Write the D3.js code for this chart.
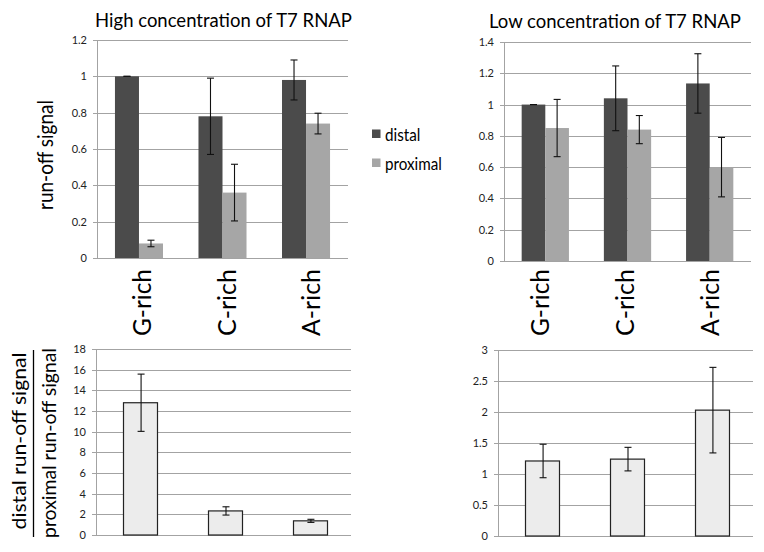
<!DOCTYPE html>
<html><head><meta charset="utf-8">
<script src="https://cdn.jsdelivr.net/npm/d3@7"></script>
<style>
body{margin:0;background:#fff}
svg{display:block}
text{font-family:Lato,"Open Sans",sans-serif;fill:#000}
</style>
</head><body>
<svg id="c" width="764" height="552"></svg>
<script>
// ---------- data ----------
const categories = ["G-rich", "C-rich", "A-rich"];
const seriesNames = ["distal", "proximal"];

const highDistal = [1.00, 0.78, 0.98];
const highDistalErr = [0.0, 0.21, 0.11];
const highProximal = [0.08, 0.36, 0.74];
const highProximalErr = [0.018, 0.156, 0.057];

const lowDistal = [1.00, 1.04, 1.135];
const lowDistalErr = [0.0, 0.207, 0.19];
const lowProximal = [0.85, 0.84, 0.60];
const lowProximalErr = [0.183, 0.09, 0.19];

const highRatio = [12.8, 2.33, 1.37];
const highRatioErr = [2.77, 0.40, 0.15];
const lowRatio = [1.21, 1.24, 2.03];
const lowRatioErr = [0.27, 0.19, 0.69];

const highTicks = [0, 0.2, 0.4, 0.6, 0.8, 1, 1.2];
const lowTicks = [0, 0.2, 0.4, 0.6, 0.8, 1, 1.2, 1.4];
const highRatioTicks = [0, 2, 4, 6, 8, 10, 12, 14, 16, 18];
const lowRatioTicks = [0, 0.5, 1, 1.5, 2, 2.5, 3];

const titles = ["High concentration of T7 RNAP", "Low concentration of T7 RNAP"];
const yLabelTop = "run-off signal";
const yLabelNum = "distal run-off signal";
const yLabelDen = "proximal run-off signal";

// ---------- styles ----------
const colDistal = "#4b4b4b", colProximal = "#a6a6a6", colRatio = "#ececec";
const gridCol = "#a3a3a3";
const ASC = 0.74, XH = 0.507;   // Lato glyph proportions

const svg = d3.select("#c");

// size a text so that its length is `len`; optionally stretch glyph height to `h`
function fitText(sel, len, h, ratio, baseTransform) {
  sel.style("font-size", "20px");
  const w = sel.node().getComputedTextLength();
  const f = 20 * len / w;
  sel.style("font-size", f.toFixed(2) + "px");
  const k = h ? h / (ratio * f) : 1;
  sel.attr("transform", baseTransform + ` scale(1,${k.toFixed(3)})`);
  return f;
}

function drawAxes(g, y, ticks, x0, x1) {
  g.selectAll(".grid").data(ticks).join("line")
    .attr("x1", x0 - 4).attr("x2", x1)
    .attr("y1", d => Math.round(y(d)) + 0.5).attr("y2", d => Math.round(y(d)) + 0.5)
    .attr("stroke", gridCol).attr("stroke-width", 1);
  g.append("line")
    .attr("x1", Math.round(x0) + 0.5).attr("x2", Math.round(x0) + 0.5)
    .attr("y1", y(ticks[ticks.length - 1])).attr("y2", y(0))
    .attr("stroke", gridCol).attr("stroke-width", 1);
  const ax = d3.axisLeft(y).tickValues(ticks).tickSize(0).tickPadding(10)
    .tickFormat(d => String(d));
  const a = g.append("g").attr("transform", `translate(${x0},0)`).call(ax);
  a.select(".domain").remove();
  a.selectAll("text").style("font-size", "11px").style("fill", "#222")
    .style("font-family", "Lato, 'Open Sans', sans-serif");
}

function errorBars(g, pts) {
  const eb = g.selectAll(null).data(pts).join("g");
  eb.append("line").attr("x1", d => d.x).attr("x2", d => d.x)
    .attr("y1", d => d.yHi).attr("y2", d => d.yLo)
    .attr("stroke", "#111").attr("stroke-width", 1.1);
  eb.append("line").attr("x1", d => d.x - 3.5).attr("x2", d => d.x + 3.5)
    .attr("y1", d => d.yHi).attr("y2", d => d.yHi)
    .attr("stroke", "#111").attr("stroke-width", 1.1);
  eb.append("line").attr("x1", d => d.x - 3.5).attr("x2", d => d.x + 3.5)
    .attr("y1", d => d.yLo).attr("y2", d => d.yLo)
    .attr("stroke", "#111").attr("stroke-width", 1.1);
}

function groupedPanel(o) {
  const g = svg.append("g");
  const y = d3.scaleLinear().domain([0, o.ticks[o.ticks.length - 1]]).range([o.bottom, o.top]);
  const x = d3.scaleBand().domain(categories).range([o.x0, o.x1]).paddingInner(0.425).paddingOuter(0.215);
  const xs = d3.scaleBand().domain(seriesNames).range([0, x.bandwidth()]);
  drawAxes(g, y, o.ticks, o.x0, o.x1);
  const rows = categories.map((c, i) => ({c, vals: [
    {s: "distal", v: o.distal[i], e: o.distalErr[i]},
    {s: "proximal", v: o.proximal[i], e: o.proximalErr[i]}]}));
  const cols = {distal: colDistal, proximal: colProximal};
  const grp = g.selectAll(".grp").data(rows).join("g")
    .attr("transform", d => `translate(${x(d.c)},0)`);
  grp.selectAll("rect").data(d => d.vals).join("rect")
    .attr("x", d => xs(d.s)).attr("width", xs.bandwidth())
    .attr("y", d => y(d.v)).attr("height", d => y(0) - y(d.v))
    .attr("fill", d => cols[d.s]);
  const pts = [];
  rows.forEach(r => r.vals.forEach(d => pts.push({
    x: x(r.c) + xs(d.s) + xs.bandwidth() / 2,
    yHi: y(d.v + d.e), yLo: y(d.v - d.e)})));
  errorBars(g, pts);
  const t = g.append("text").attr("text-anchor", "middle").text(o.title);
  fitText(t, o.titleW, 0, 0, `translate(${o.titleX},${o.titleY})`);
  return x;
}

function ratioPanel(o) {
  const g = svg.append("g");
  const y = d3.scaleLinear().domain([0, o.ticks[o.ticks.length - 1]]).range([o.bottom, o.top]);
  const x = d3.scaleBand().domain(categories).range([o.x0 + 2, o.x1 + 2]).paddingInner(0.597).paddingOuter(0.3);
  drawAxes(g, y, o.ticks, o.x0, o.x1);
  const rows = categories.map((c, i) => ({c, v: o.vals[i], e: o.errs[i]}));
  g.selectAll(".bar").data(rows).join("rect")
    .attr("x", d => Math.round(x(d.c)) + 0.5).attr("width", Math.round(x.bandwidth()))
    .attr("y", d => y(d.v)).attr("height", d => y(0) - y(d.v))
    .attr("fill", colRatio).attr("stroke", "#222").attr("stroke-width", 1.2);
  errorBars(g, rows.map(d => ({x: x(d.c) + x.bandwidth() / 2 + 0.5,
    yHi: y(d.v + d.e), yLo: y(Math.max(0, d.v - d.e))})));
  // category labels (rotated, sitting above the ratio panel)
  g.selectAll(".cat").data(categories).join("text")
    .attr("text-anchor", "start")
    .text(d => d)
    .each(function(d) {
      fitText(d3.select(this), 67, 0, 0,
        `translate(${x(d) + x.bandwidth() / 2 + o.labelShift},336) rotate(-90)`);
    });
  return x;
}

groupedPanel({x0: 97, x1: 348, top: 40, bottom: 258, ticks: highTicks,
  distal: highDistal, distalErr: highDistalErr, proximal: highProximal, proximalErr: highProximalErr,
  title: titles[0], titleX: 223.5, titleY: 26.5, titleW: 257});
groupedPanel({x0: 504, x1: 751, top: 42, bottom: 261, ticks: lowTicks,
  distal: lowDistal, distalErr: lowDistalErr, proximal: lowProximal, proximalErr: lowProximalErr,
  title: titles[1], titleX: 615, titleY: 27.5, titleW: 252});
ratioPanel({x0: 96, x1: 351, top: 349, bottom: 535, ticks: highRatioTicks,
  vals: highRatio, errs: highRatioErr, labelShift: 10});
ratioPanel({x0: 498, x1: 753, top: 350, bottom: 536, ticks: lowRatioTicks,
  vals: lowRatio, errs: lowRatioErr, labelShift: 6.5});

// y-axis labels
const yl = svg.append("text").attr("text-anchor", "middle").text(yLabelTop);
fitText(yl, 110, 15, ASC, "translate(53,155) rotate(-90)");
const yn = svg.append("text").attr("text-anchor", "middle").text(yLabelNum);
fitText(yn, 177, 14.5, ASC, "translate(26,441) rotate(-90)");
svg.append("line").attr("x1", 33.5).attr("x2", 33.5).attr("y1", 350).attr("y2", 537)
  .attr("stroke", "#000").attr("stroke-width", 1.3);
const yd = svg.append("text").attr("text-anchor", "middle").text(yLabelDen);
fitText(yd, 190, 14.5, ASC, "translate(56,443) rotate(-90)");

// legend
const legCols = [colDistal, colProximal];
const lg = svg.append("g").selectAll("g").data(seriesNames).join("g")
  .attr("transform", (d, i) => `translate(372,${129.5 + i * 29})`);
lg.append("rect").attr("width", 8.5).attr("height", 8.5).attr("fill", (d, i) => legCols[i]);
const legTexts = lg.append("text").text(d => d);
// size from the longer entry, apply to both
const lt = legTexts.filter(d => d === "proximal");
const lf = fitText(lt, 57, 8.6, XH, "translate(13,11)");
const lk = 8.6 / (XH * lf);
legTexts.style("font-size", lf.toFixed(2) + "px")
  .attr("transform", `translate(13,11) scale(1,${lk.toFixed(3)})`);
</script>
</body></html>
